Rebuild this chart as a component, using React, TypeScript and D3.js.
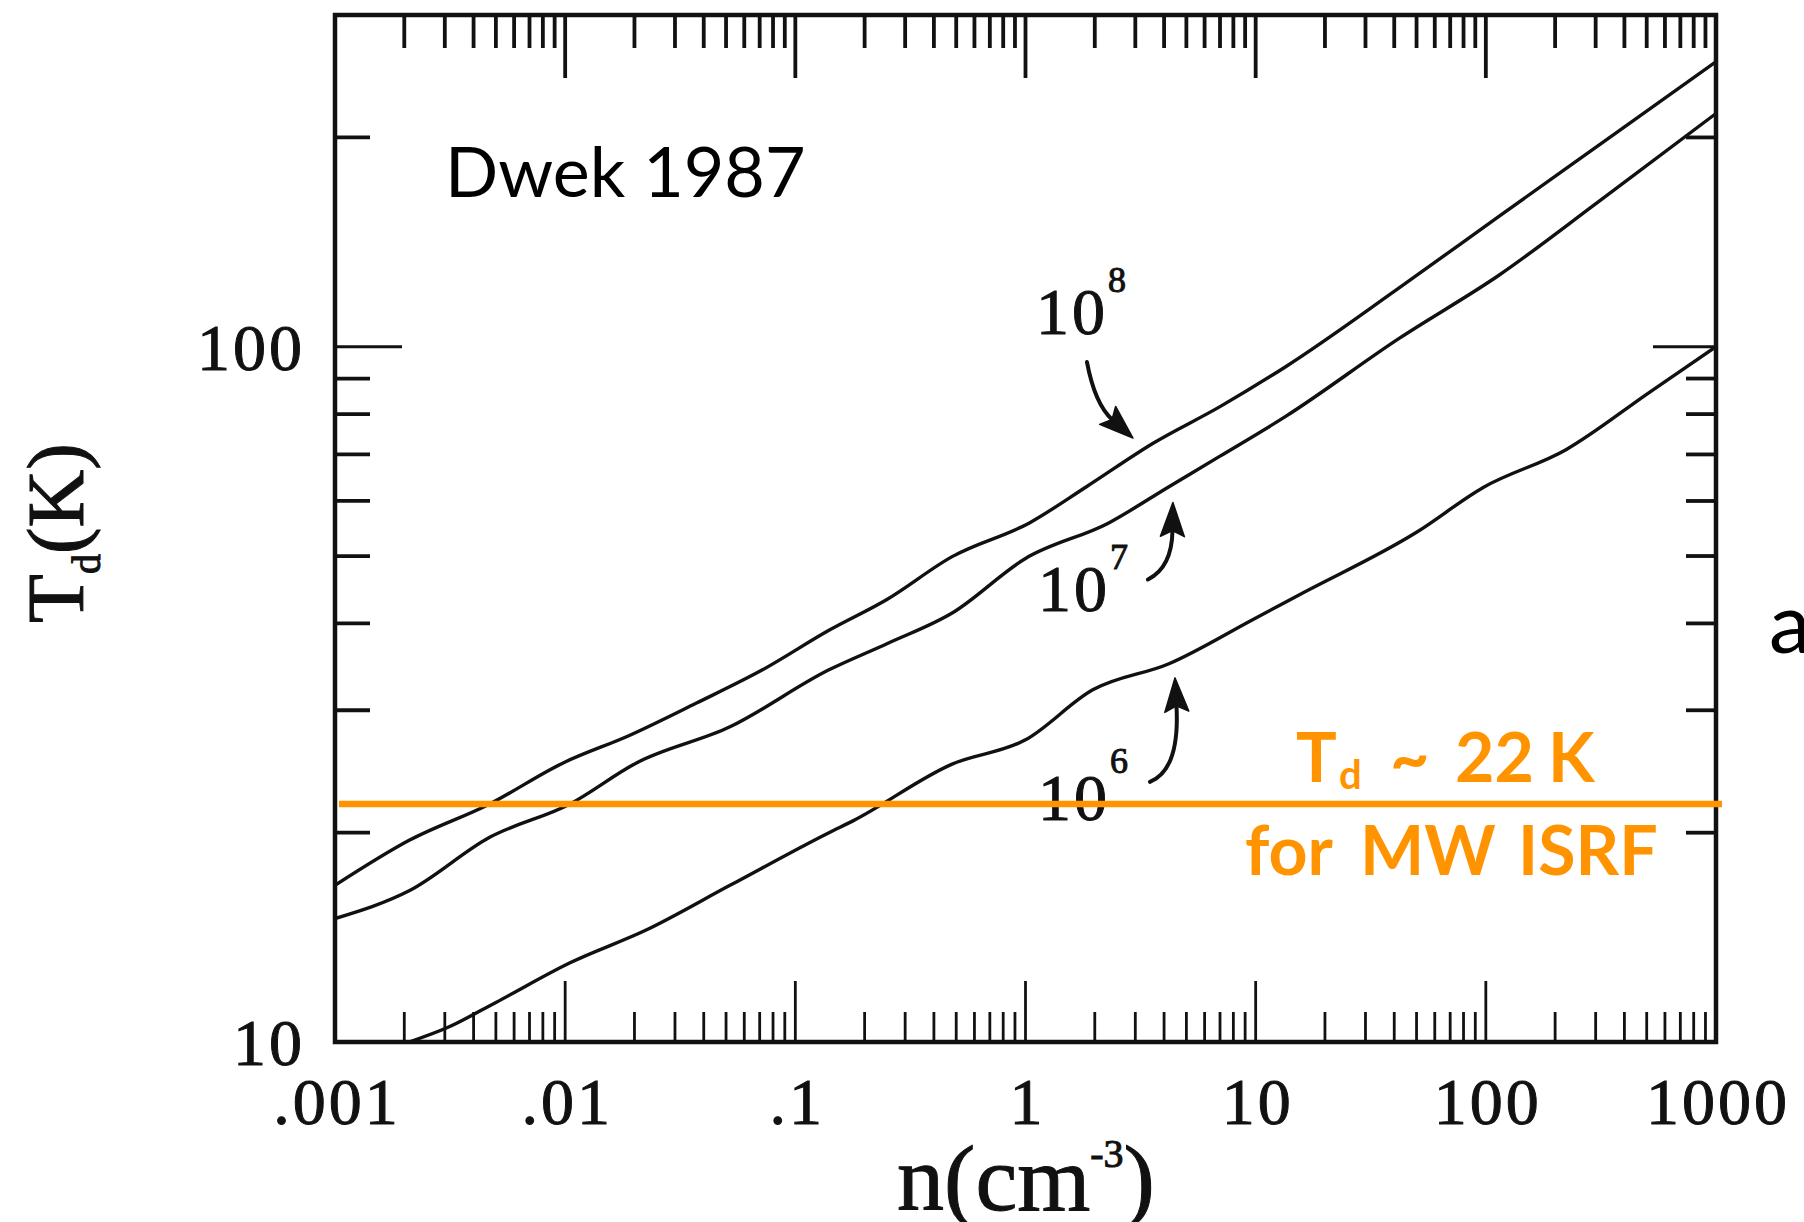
import React from 'react';
import * as d3 from 'd3';

const WIDTH = 1804;
const HEIGHT = 1222;

// Dust temperature T_d (K) against gas density n (cm^-3), one curve per label
const nCurve8 = [0.001, 0.0021, 0.0047, 0.0098, 0.019, 0.037, 0.072, 0.14, 0.25, 0.48, 1.04, 1.84, 3.6, 7.0, 13.5, 42, 114, 310, 1000];
const tCurve8 = [16.8, 19.5, 22.0, 25.2, 27.6, 30.7, 34.3, 39.1, 43.3, 49.9, 55.8, 62.9, 72.7, 82.0, 93.6, 121.5, 154, 195, 257];

const nCurve7 = [0.001, 0.0021, 0.0047, 0.0105, 0.0204, 0.052, 0.14, 0.25, 0.48, 1.0, 2.3, 4.2, 7.0, 13.5, 42, 114, 310, 1000];
const tCurve7 = [15.05, 16.5, 19.7, 22.0, 25.2, 28.4, 34.3, 37.4, 41.4, 49.6, 55.8, 62.9, 69.6, 79.4, 102.8, 126.7, 161.8, 216.5];

const nCurve6 = [0.0021, 0.0031, 0.005, 0.0105, 0.0226, 0.052, 0.14, 0.178, 0.48, 1.0, 1.96, 4.2, 9.7, 15.5, 50, 97, 223, 512, 1000];
const tCurve6 = [10.0, 10.5, 11.4, 13.0, 14.5, 16.8, 20.0, 20.8, 25.1, 27.2, 32.1, 35.0, 40.5, 44.0, 54.1, 62.7, 71.1, 85.9, 100];

const curveExponents = ['8', '7', '6'];

// Where each label arrow touches its curve (data units)
const arrowTipN = [2.93, 4.37, 4.46];
const arrowTipT = [73.9, 59.7, 33.4];

const xDomain = [0.001, 1000];
const yDomain = [10, 300];
const xMajorTicks = [0.001, 0.01, 0.1, 1, 10, 100, 1000];
const xTickLabels = ['.001', '.01', '.1', '1', '10', '100', '1000'];
const yLabeledTicks = [10, 100];
const yTickLabels = ['10', '100'];
const yMinorTicks = [20, 30, 40, 50, 60, 70, 80, 90, 200];
const isrfTemperature = 22;

const frame = { left: 335, right: 1716, top: 15, bottom: 1042 };
const INK = '#111';
const ORANGE = '#ff9400';
const SERIF = '"Liberation Serif", "Times New Roman", serif';
const SANS = 'Lato, "Open Sans", sans-serif';

// Pixel offsets of tail, bend and label relative to each arrow tip
const arrowLayout = [
  { tail: [-46, -76], ctrl: [-38, -34], label: [-97, -104], supDy: -42 },
  { tail: [-25, 77], ctrl: [-1, 65], label: [-135, 109], supDy: -42 },
  { tail: [-25, 104], ctrl: [5, 92], label: [-137, 142], supDy: -47 },
];

export default function App() {
  const x = d3.scaleLog().domain(xDomain).range([frame.left, frame.right]);
  const y = d3.scaleLog().domain(yDomain).range([frame.bottom, frame.top]);

  const line = d3
    .line<[number, number]>()
    .x((d) => x(d[0]))
    .y((d) => y(d[1]))
    .curve(d3.curveMonotoneX);

  const series: [number, number][][] = [
    nCurve8.map((n, i) => [n, tCurve8[i]] as [number, number]),
    nCurve7.map((n, i) => [n, tCurve7[i]] as [number, number]),
    nCurve6.map((n, i) => [n, tCurve6[i]] as [number, number]),
  ];

  const xMinor: number[] = [];
  for (let d = 0; d < xMajorTicks.length - 1; d++) {
    for (let k = 2; k <= 9; k++) xMinor.push(xMajorTicks[d] * k);
  }
  const xInnerMajor = xMajorTicks.slice(1, -1);

  const arrows = arrowTipN.map((n, i) => {
    const tx = x(n);
    const ty = y(arrowTipT[i]);
    const L = arrowLayout[i];
    const cx = tx + L.ctrl[0];
    const cy = ty + L.ctrl[1];
    const dx = tx - cx;
    const dy = ty - cy;
    const len = Math.hypot(dx, dy);
    const ux = dx / len;
    const uy = dy / len;
    const headLen = 34;
    const headHalf = 12;
    const bx = tx - ux * headLen;
    const by = ty - uy * headLen;
    const px = -uy;
    const py = ux;
    const shaftEnd = [tx - ux * (headLen - 6), ty - uy * (headLen - 6)];
    const shaft = d3.path();
    shaft.moveTo(tx + L.tail[0], ty + L.tail[1]);
    shaft.quadraticCurveTo(cx, cy, shaftEnd[0], shaftEnd[1]);
    const head = `M${tx},${ty}L${bx + px * headHalf},${by + py * headHalf}L${bx + ux * 6},${by + uy * 6}L${bx - px * headHalf},${by - py * headHalf}Z`;
    return {
      shaft: shaft.toString(),
      head,
      lx: tx + L.label[0],
      ly: ty + L.label[1],
      supDy: L.supDy,
      exp: curveExponents[i],
    };
  });

  return (
    <svg
      width={WIDTH}
      height={HEIGHT}
      viewBox={`0 0 ${WIDTH} ${HEIGHT}`}
      style={{ position: 'absolute', left: 0, top: 0, background: '#fff' }}
    >
      <defs>
        <clipPath id="plot-area">
          <rect x={frame.left} y={frame.top} width={frame.right - frame.left} height={frame.bottom - frame.top} />
        </clipPath>
      </defs>
      <rect x={0} y={0} width={WIDTH} height={HEIGHT} fill="#fff" />

      {/* ticks */}
      <g stroke={INK} strokeWidth={3.8}>
        {xMinor.map((v, i) => (
          <line key={`tm${i}`} x1={x(v)} x2={x(v)} y1={frame.top} y2={frame.top + 33} />
        ))}
        {xInnerMajor.map((v, i) => (
          <line key={`tM${i}`} x1={x(v)} x2={x(v)} y1={frame.top} y2={frame.top + 63} />
        ))}
        {yMinorTicks.map((v, i) => (
          <line key={`lm${i}`} x1={frame.left} x2={frame.left + 35} y1={y(v)} y2={y(v)} />
        ))}
        <line x1={frame.left} x2={frame.left + 67} y1={y(100)} y2={y(100)} strokeWidth={3} />
        {yMinorTicks.map((v, i) => (
          <line key={`rm${i}`} x1={frame.right - 30} x2={frame.right} y1={y(v)} y2={y(v)} />
        ))}
        <line x1={frame.right - 63} x2={frame.right} y1={y(100)} y2={y(100)} strokeWidth={3} />
      </g>
      <g stroke={INK} strokeWidth={2.8}>
        {xMinor.map((v, i) => (
          <line key={`bm${i}`} x1={x(v)} x2={x(v)} y1={frame.bottom} y2={frame.bottom - 30} />
        ))}
        {xInnerMajor.map((v, i) => (
          <line key={`bM${i}`} x1={x(v)} x2={x(v)} y1={frame.bottom} y2={frame.bottom - 61} />
        ))}
      </g>

      {/* curves */}
      <g clipPath="url(#plot-area)" fill="none" stroke={INK} strokeWidth={3.4} strokeLinejoin="round">
        {series.map((s, i) => (
          <path key={i} d={line(s) || ''} />
        ))}
      </g>

      {/* frame */}
      <rect
        x={frame.left}
        y={frame.top}
        width={frame.right - frame.left}
        height={frame.bottom - frame.top}
        fill="none"
        stroke={INK}
        strokeWidth={4.5}
      />

      {/* curve labels with arrows */}
      {arrows.map((a, i) => (
        <g key={`arr${i}`}>
          <path d={a.shaft} fill="none" stroke={INK} strokeWidth={4} strokeLinecap="round" />
          <path d={a.head} fill={INK} stroke={INK} strokeWidth={1.5} strokeLinejoin="round" />
          <text
            x={a.lx}
            y={a.ly}
            fontFamily={SERIF}
            fontSize={66}
            fill={INK}
            stroke={INK}
            strokeWidth={1}
            letterSpacing={3}
          >
            10
            <tspan dy={a.supDy} fontSize={36}>
              {a.exp}
            </tspan>
          </text>
        </g>
      ))}

      {/* tick labels */}
      <g fontFamily={SERIF} fontSize={66} fill={INK} stroke={INK} strokeWidth={1} letterSpacing={3}>
        {yLabeledTicks.map((v, i) => (
          <text key={`yl${i}`} x={frame.left - 30} y={y(v) + 23} textAnchor="end">
            {yTickLabels[i]}
          </text>
        ))}
        {xMajorTicks.map((v, i) => (
          <text key={`xl${i}`} x={x(v) + 2} y={1124} textAnchor="middle">
            {xTickLabels[i]}
          </text>
        ))}
      </g>

      {/* axis titles */}
      <text
        transform="translate(83,533) rotate(-90)"
        textAnchor="middle"
        fontFamily={SERIF}
        fontSize={80}
        fill={INK}
        stroke={INK}
        strokeWidth={1}
      >
        T
        <tspan fontSize={40} dy={17}>
          d
        </tspan>
        <tspan dy={-17}>(K)</tspan>
      </text>
      <text
        x={1026}
        y={1210}
        textAnchor="middle"
        fontFamily={SERIF}
        fontSize={94}
        fill={INK}
        stroke={INK}
        strokeWidth={1}
      >
        n(cm
        <tspan dy={-43} fontSize={40}>
          -3
        </tspan>
        <tspan dy={43}>)</tspan>
      </text>

      {/* MW ISRF reference temperature */}
      <line
        x1={x(xDomain[0]) + 4}
        x2={x(xDomain[1]) + 6}
        y1={y(isrfTemperature)}
        y2={y(isrfTemperature)}
        stroke={ORANGE}
        strokeWidth={6.5}
      />
      <g fontFamily={SANS} fontWeight={700} fill={ORANGE}>
        <text y={782} fontSize={68}>
          <tspan x={1296}>T</tspan>
          <tspan x={1339} y={789} fontSize={40}>d</tspan>
          <tspan x={1390} y={782}>~</tspan>
          <tspan x={1455}>22</tspan>
          <tspan x={1548}>K</tspan>
        </text>
        <text y={875} fontSize={68}>
          <tspan x={1245}>for</tspan>
          <tspan x={1360}>MW</tspan>
          <tspan x={1518}>ISRF</tspan>
        </text>
      </g>

      {/* source and slide text */}
      <text x={445} y={197} fontFamily={SANS} fontSize={70} fill="#000">
        Dwek 1987
      </text>
      <text x={1769} y={653} fontFamily={SANS} fontSize={84} fill="#000">
        a
      </text>
    </svg>
  );
}
